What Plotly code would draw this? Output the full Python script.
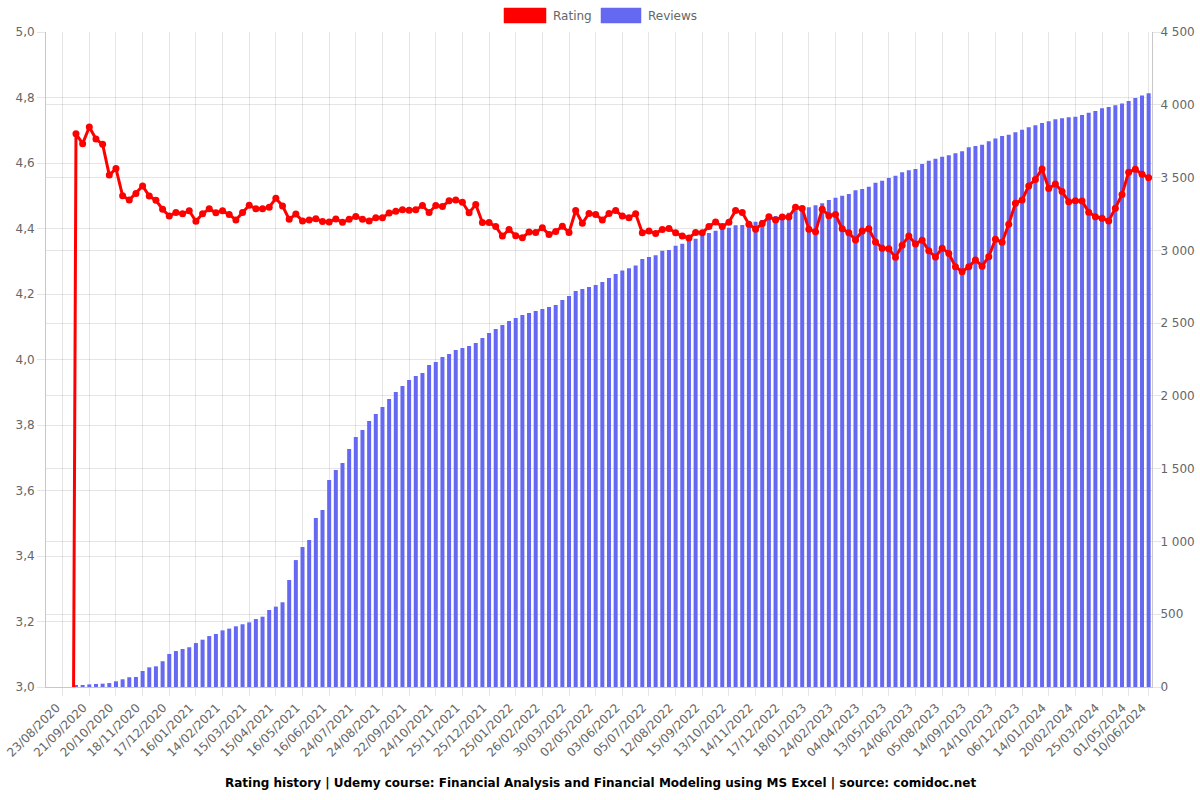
import plotly.graph_objects as go
import pandas as pd

# ---- data ----
tick_dates = ["23/08/2020", "21/09/2020", "20/10/2020", "18/11/2020", "17/12/2020",
              "16/01/2021", "14/02/2021", "15/03/2021", "15/04/2021", "16/05/2021",
              "16/06/2021", "24/07/2021", "24/08/2021", "22/09/2021", "24/10/2021",
              "25/11/2021", "25/12/2021", "25/01/2022", "26/02/2022", "30/03/2022",
              "02/05/2022", "03/06/2022", "05/07/2022", "12/08/2022", "15/09/2022",
              "13/10/2022", "14/11/2022", "17/12/2022", "18/01/2023", "24/02/2023",
              "04/04/2023", "13/05/2023", "24/06/2023", "05/08/2023", "14/09/2023",
              "24/10/2023", "06/12/2023", "14/01/2024", "20/02/2024", "25/03/2024",
              "01/05/2024", "10/06/2024"]

ratings = [0, 0, 0, 0,
           4.689, 4.659, 4.710, 4.673, 4.657, 4.563, 4.583, 4.500, 4.487, 4.507,
           4.530, 4.499, 4.486, 4.459, 4.438, 4.449, 4.445, 4.454, 4.422, 4.445,
           4.460, 4.448, 4.454, 4.443, 4.426, 4.449, 4.471, 4.460, 4.460, 4.465,
           4.492, 4.469,
           4.428, 4.444, 4.423, 4.426, 4.430, 4.421, 4.420, 4.429, 4.419, 4.428,
           4.437, 4.428, 4.423, 4.433, 4.433, 4.447, 4.453, 4.457, 4.456, 4.457,
           4.470, 4.449, 4.470, 4.467, 4.485, 4.487, 4.480, 4.448, 4.473, 4.418,
           4.418, 4.406, 4.377,
           4.397, 4.378, 4.372, 4.389, 4.388, 4.402, 4.382, 4.391, 4.407, 4.388,
           4.455, 4.416, 4.446, 4.443, 4.426, 4.446, 4.455, 4.438, 4.433, 4.445,
           4.387, 4.392, 4.385, 4.397, 4.400, 4.387, 4.377, 4.371, 4.388, 4.387,
           4.406, 4.420, 4.406,
           4.419, 4.455, 4.449, 4.413, 4.398, 4.415, 4.436, 4.426, 4.435, 4.435,
           4.465, 4.461, 4.398, 4.390, 4.459, 4.439, 4.443, 4.399, 4.387, 4.365,
           4.392, 4.399, 4.359, 4.340, 4.338, 4.312, 4.349, 4.377, 4.353, 4.364,
           4.332, 4.313, 4.340,
           4.324, 4.283, 4.268, 4.283, 4.304, 4.285, 4.314, 4.367, 4.358, 4.413,
           4.477, 4.487, 4.530, 4.550, 4.582, 4.522, 4.536, 4.513, 4.482, 4.485,
           4.484, 4.450, 4.436, 4.431, 4.423, 4.462, 4.504, 4.572, 4.581, 4.566,
           4.555]

reviews = [0, 0, 0, 0,
           12, 14, 18, 21, 23, 27, 39, 53, 67, 69, 110, 135, 142, 177, 227, 247,
           261, 273, 302, 325, 350, 364, 389, 401, 417, 431, 444, 467, 483, 529,
           552, 582,
           735, 872, 962, 1010, 1161, 1216, 1422, 1491, 1539, 1635, 1718, 1766,
           1827, 1876, 1924, 1979, 2027, 2068, 2109, 2137, 2157, 2212, 2233, 2267,
           2288, 2315, 2329, 2343, 2363, 2398, 2432, 2460, 2487, 2514, 2535, 2556,
           2569, 2583, 2597, 2611, 2624, 2659, 2686, 2720, 2734, 2748, 2762, 2782,
           2810, 2837,
           2861, 2877, 2895, 2940, 2954, 2966, 2997, 3002, 3032, 3046, 3066, 3080,
           3098, 3119, 3135, 3146,
           3155, 3172, 3174, 3186, 3197, 3208, 3231, 3236, 3243, 3258, 3272, 3277,
           3296, 3309, 3323, 3346, 3362, 3375, 3387, 3412, 3421, 3437, 3465, 3478,
           3497, 3513,
           3536, 3550, 3559, 3593, 3616, 3630, 3643, 3653, 3667, 3680, 3708, 3717,
           3726, 3749, 3769, 3785, 3794, 3811, 3829, 3845, 3859, 3875, 3886, 3900,
           3907, 3914, 3918, 3930, 3946, 3957, 3976, 3985, 3997, 4008, 4026, 4047,
           4063, 4079]

left_ticks = [3.0, 3.2, 3.4, 3.6, 3.8, 4.0, 4.2, 4.4, 4.6, 4.8, 5.0]
right_ticks = [0, 500, 1000, 1500, 2000, 2500, 3000, 3500, 4000, 4500]

# ---- category axis: one snapshot date per data point ----
n = len(ratings)
STEP = 4
FIRST = 2
anchor_idx = [min(FIRST + STEP * k, n - 1) for k in range(len(tick_dates))]
base = pd.to_datetime(tick_dates[0], format="%d/%m/%Y")
cats = [(base + pd.Timedelta(days=7 * (i - FIRST))).strftime("%d.%m.%Y") for i in range(n)]
for i, d in zip(anchor_idx, tick_dates):
    cats[i] = d
tickvals = [cats[i] for i in anchor_idx]

FONT = "DejaVu Sans"
GRID = "rgba(0,0,0,0.1)"
AXL = "rgba(0,0,0,0.22)"
TXT = "#666666"
BLUE = "rgb(101,104,241)"

W, H = 1200, 800
PL, PR, PT, PB = 46, 1152, 32, 687          # plot area in page pixels
L, T, R, B = PL, PT, W - PR, H - PB
PW, PH = PR - PL, PB - PT

def px(x):
    return (x - PL) / PW

def py(y):
    return (PB - y) / PH

fig = go.Figure()
fig.add_trace(go.Bar(x=cats, y=reviews, name="Reviews", yaxis="y",
                     marker=dict(color=BLUE, line=dict(width=0)),
                     showlegend=False))
fig.add_trace(go.Scatter(x=cats, y=ratings, name="Rating", yaxis="y2",
                         mode="lines+markers",
                         line=dict(color="#ff0000", width=3),
                         marker=dict(color="#ff0000", size=7),
                         showlegend=False))

fig.update_layout(
    width=W, height=H,
    margin=dict(l=L, r=R, t=T, b=B),
    paper_bgcolor="white", plot_bgcolor="white",
    font=dict(family=FONT, size=12, color=TXT),
    bargap=0.4,
    xaxis=dict(type="category", tickmode="array", tickvals=tickvals,
               ticktext=tickvals, automargin=False,
               tickangle=-45, showgrid=True, gridcolor=GRID,
               ticks="outside", ticklen=8, tickcolor=GRID,
               showline=True, linecolor=AXL, ticklabelshift=-6,
               tickfont=dict(size=12, color=TXT), range=[-0.5, n - 0.5]),
    yaxis=dict(range=[0, 4500], side="right", tickmode="array",
               tickvals=right_ticks, automargin=False,
               ticktext=[f"{v:,}".replace(",", " ") for v in right_ticks],
               showgrid=True, gridcolor=GRID, ticks="outside", ticklen=8,
               tickcolor=GRID, showline=True, linecolor=AXL, ticklabelstandoff=-3,
               zeroline=False, tickfont=dict(size=12, color=TXT)),
    yaxis2=dict(range=[3, 5], side="left", overlaying="y", tickmode="array",
                tickvals=left_ticks, automargin=False,
                ticktext=[f"{v:.1f}".replace(".", ",") for v in left_ticks],
                showgrid=True, gridcolor=GRID, ticks="outside", ticklen=8,
                tickcolor=GRID, showline=True, linecolor=AXL,
                zeroline=False, tickfont=dict(size=12, color=TXT)),
)

# legend drawn as boxes + labels
fig.add_shape(type="rect", xref="paper", yref="paper",
              x0=px(504), x1=px(546), y0=py(23), y1=py(8),
              fillcolor="#ff0000", line=dict(color="rgba(255,0,0,0.5)", width=1))
fig.add_annotation(xref="paper", yref="paper", x=px(551), y=py(16),
                   text="Rating", showarrow=False, xanchor="left", yanchor="middle",
                   font=dict(family=FONT, size=12, color=TXT))
fig.add_shape(type="rect", xref="paper", yref="paper",
              x0=px(601), x1=px(641), y0=py(23), y1=py(8),
              fillcolor=BLUE, line=dict(color="rgba(101,104,241,0.5)", width=1))
fig.add_annotation(xref="paper", yref="paper", x=px(646), y=py(16),
                   text="Reviews", showarrow=False, xanchor="left", yanchor="middle",
                   font=dict(family=FONT, size=12, color=TXT))

fig.add_annotation(xref="paper", yref="paper", x=px(600), y=py(783),
                   text="<b>Rating history | Udemy course: Financial Analysis and Financial Modeling using MS Excel | source: comidoc.net</b>",
                   showarrow=False, xanchor="center", yanchor="middle",
                   font=dict(family=FONT, size=12, color="#000000"))

fig.write_html("out.html", config={"displayModeBar": False},
               post_script="document.body.style.margin='0px';")
